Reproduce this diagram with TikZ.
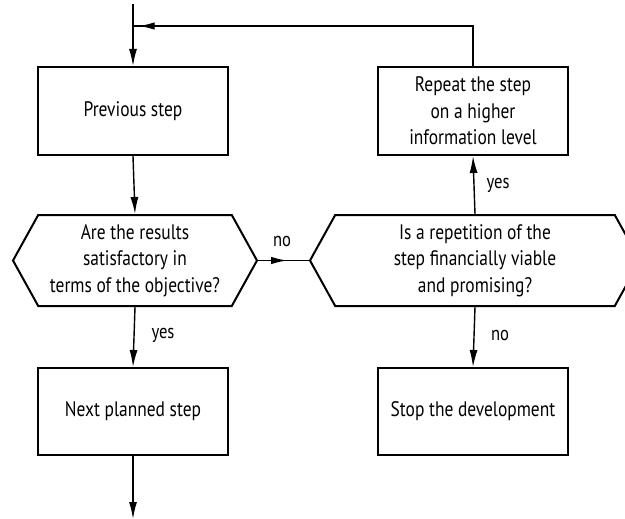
\documentclass[tikz,border=0pt]{standalone}
\usepackage{fontspec}
\setmainfont{PT Sans}[FakeStretch=0.83]
\usetikzlibrary{arrows.meta,shapes.symbols,decorations.markings}

\begin{document}
\begin{tikzpicture}[x=1pt,y=-1pt,
  txt/.style={font=\fontsize{21}{26.5}\selectfont},
  stepbox/.style={draw, line width=2pt, minimum width=190pt, minimum height=88pt,
    inner sep=0pt, align=center, txt},
  decision/.style={draw, line width=2pt, signal, signal to=west and east,
    signal pointer angle=122, minimum height=91pt, inner sep=0pt, align=center, txt},
  flow/.style={line width=1.4pt, -{Latex[length=17pt,width=8pt]}},
  link/.style={line width=1.4pt},
  midarrow/.style={postaction={decorate}, decoration={markings,
    mark=at position #1 with {\arrow{Latex[length=16pt,width=7.5pt]}}}},
  lbl/.style={font=\fontsize{20}{23}\selectfont, inner sep=0pt}
]
\useasboundingbox (0,0) rectangle (625,519);
\clip (0,0) rectangle (625,519);

% process boxes
\node[stepbox] (prev)   at (133,111)   {Previous step};
\node[stepbox] (repeat) at (473,111)   {Repeat the step\\on a higher\\information level};
\node[stepbox, minimum height=87pt] (next) at (133,411.5) {Next planned step};
\node[stepbox, minimum height=87pt] (stop) at (473,411.5) {Stop the development};

% decisions
\node[decision, minimum width=244pt] (q1) at (135,260.5)
  {Are the results\\satisfactory in\\terms of the objective?};
\node[decision, minimum width=330pt] (q2) at (475,260.5)
  {Is a repetition of the\\step financially viable\\and promising?};

% free ends and the loop corner
\coordinate (start)  at (133,4);
\coordinate (join)   at (133,26);
\coordinate (corner) at (473,26);
\coordinate (finish) at (133,519);

% connectors
\draw[flow] (start) -- (prev.north);
\draw[link, midarrow=0.985] (repeat.north) -- (corner) -- (join);
\draw[flow] (prev.south) -- (q1.north);
\draw[link, midarrow=0.57] (q1.east) -- (q2.west);
\draw[flow] (q1.south) -- (next.north);
\draw[flow] (next.south) -- (finish);
\draw[flow] (q2.north) -- (repeat.south);
\draw[flow] (q2.south) -- (stop.north);

% branch labels
\node[lbl] (lno1)  at (282,242) {no};
\node[lbl] (lyes1) at (163,335) {yes};
\node[lbl] (lyes2) at (498,185) {yes};
\node[lbl] (lno2)  at (500,335) {no};
\end{tikzpicture}
\end{document}
